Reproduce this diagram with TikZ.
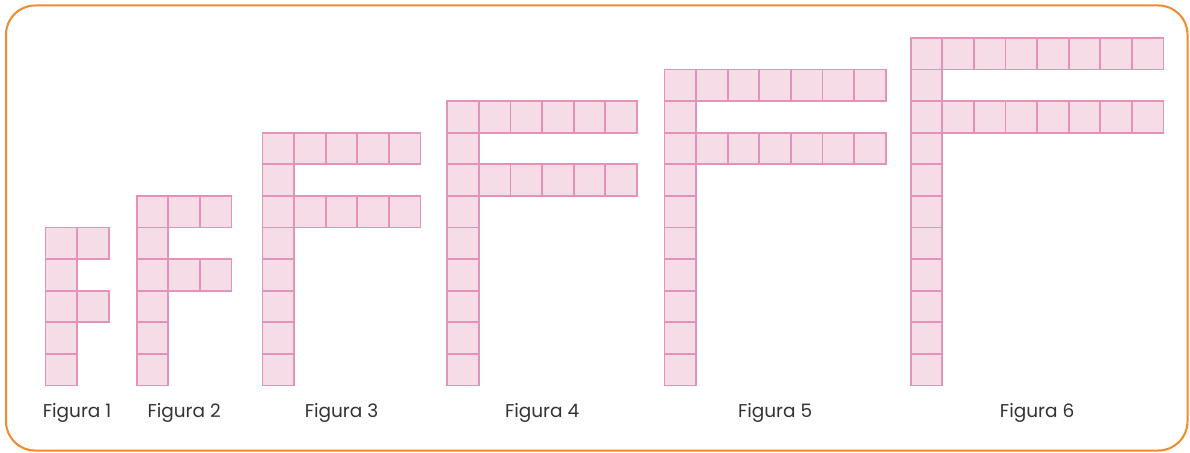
\documentclass[tikz,border=0pt]{standalone}
\usepackage{fontspec}
\setmainfont{Poppins}
\definecolor{frameorange}{HTML}{F28A2B}
\definecolor{sqfill}{HTML}{F6DCE7}
\definecolor{sqdraw}{HTML}{E592BA}
\definecolor{labelgray}{HTML}{333333}
\tikzset{
  sq/.style={draw=sqdraw, fill=sqfill, line width=1.7pt, minimum size=31.6pt, inner sep=0pt, outer sep=0pt, anchor=north west},
  figlabel/.style={text=labelgray, font=\fontsize{18.5}{22}\selectfont, anchor=base, inner sep=0pt},
  frame/.style={draw=frameorange, line width=2pt, rounded corners=29pt}
}
\begin{document}
\begin{tikzpicture}[x=1pt,y=-1pt]
\useasboundingbox (0,0) rectangle (1190,452);
\draw[frame] (6,5.5) rectangle (1187.5,450.5);
\def\s{31.6}
\foreach \k/\xo/\yo/\c/\a in {1/45.5/227.5/5/2, 2/136.7/195.9/6/3, 3/262.5/132.7/8/5, 4/447.3/101.1/9/6, 5/664.5/69.5/10/7, 6/910.7/37.9/11/8}{
  \foreach \i in {1,...,\c}{
    \node[sq] (f\k c\i) at ({\xo},{\yo+(\i-1)*\s}) {};
  }
  \foreach \j in {2,...,\a}{
    \node[sq] (f\k t\j) at ({\xo+(\j-1)*\s},{\yo}) {};
    \node[sq] (f\k m\j) at ({\xo+(\j-1)*\s},{\yo+2*\s}) {};
  }
  \node[figlabel] (lab\k) at ({\xo+\a*\s/2},417) {Figura \k};
}
\end{tikzpicture}
\end{document}
